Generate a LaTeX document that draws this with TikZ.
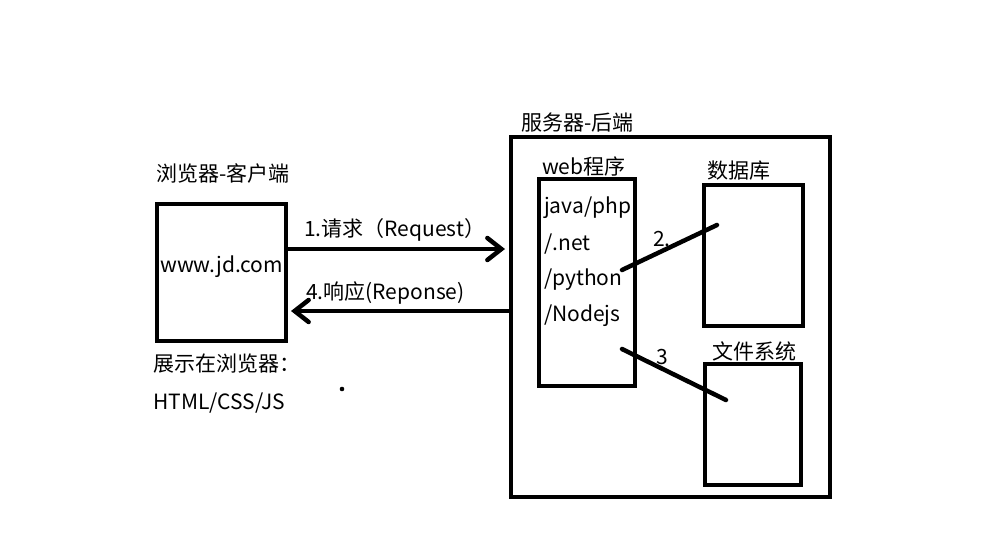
\documentclass[tikz,border=0pt]{standalone}
\usepackage{fontspec}
\setmainfont{Noto Sans CJK SC}
\usetikzlibrary{arrows.meta}
\begin{document}
\begin{tikzpicture}[x=1pt,y=-1pt,
  box/.style={draw,line width=4.5pt,inner sep=0pt,outer sep=0pt,rectangle},
  lbl/.style={anchor=west,inner sep=0pt,font=\fontsize{21}{24}\selectfont},
  conn/.style={line width=4.5pt},
  arr/.style={line width=4.5pt,-{Straight Barb[length=14pt,width=22pt,line cap=round]}}]
\useasboundingbox (0,0) rectangle (1005,544);
% boxes
\node[box,minimum width=129pt,minimum height=137pt] (client) at (221.5,272.5) {};
\node[box,minimum width=319pt,minimum height=360pt] (server) at (670.5,317) {};
\node[box,minimum width=96pt,minimum height=207pt] (web) at (587,282.5) {};
\node[box,minimum width=99pt,minimum height=141pt] (db) at (753.5,255.5) {};
\node[box,minimum width=96pt,minimum height=121pt] (fs) at (753,424.5) {};
% labels
\node[lbl] (tclient) at (156,173) {浏览器-客户端};
\node[lbl] (tjd) at (160,267) {www.jd.com};
\node[lbl] (treq) at (304,230) {1.请求（Request）};
\node[lbl] (tres) at (306,293) {4.响应(Reponse)};
\node[lbl] (tshow) at (153,364) {展示在浏览器：};
\node[lbl] (thtml) at (153,403) {HTML/CSS/JS};
\node[lbl] (tserver) at (521,123) {服务器-后端};
\node[lbl] (tweb) at (542,166) {web程序};
\node[lbl] (tjava) at (544,208) {java/php};
\node[lbl] (tnet) at (544,244) {/.net};
\node[lbl] (tpy) at (544,280) {/python};
\node[lbl] (tnode) at (544,316) {/Nodejs};
\node[lbl] (tdb) at (707,171) {数据库};
\node[lbl] (tfs) at (712,351) {文件系统};
\node[lbl] (t2) at (653,239) {2.};
\node[lbl] (t3) at (656,357) {3};
% connectors
\coordinate (a1) at (505,249);
\coordinate (a4) at (291,311);
\draw[arr] (client.east |- a1) -- (a1);
\draw[arr] (server.west |- a4) -- (a4);
\coordinate (l2a) at (622,270);
\coordinate (l2b) at (717,225);
\coordinate (l3a) at (622,349);
\coordinate (l3b) at (726,400);
\draw[conn,line cap=round] (l2a) -- (l2b);
\draw[conn,line cap=round] (l3a) -- (l3b);
\fill (342,389) circle (2.3pt);
\end{tikzpicture}
\end{document}
